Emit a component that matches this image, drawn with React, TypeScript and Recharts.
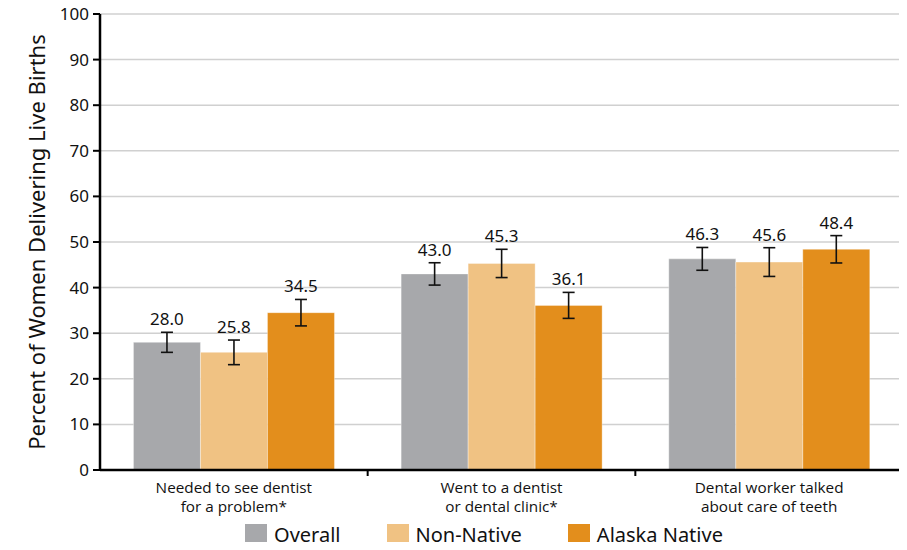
import {
  BarChart,
  Bar,
  XAxis,
  YAxis,
  CartesianGrid,
  ErrorBar,
  LabelList,
  Legend,
} from "recharts";

// Categories (two-line labels)
const categories = [
  ["Needed to see dentist", "for a problem*"],
  ["Went to a dentist", "or dental clinic*"],
  ["Dental worker talked", "about care of teeth"],
];

// Series values
const overall = [28.0, 43.0, 46.3];
const nonNative = [25.8, 45.3, 45.6];
const alaskaNative = [34.5, 36.1, 48.4];

// Error bar half-widths
const overallErr = [2.2, 2.45, 2.5];
const nonNativeErr = [2.7, 3.1, 3.15];
const alaskaNativeErr = [2.9, 2.85, 3.0];

const yTicks = [0, 10, 20, 30, 40, 50, 60, 70, 80, 90, 100];

const series = [
  { key: "overall", err: "overallErr", name: "Overall", color: "#a7a8ab" },
  { key: "nonNative", err: "nonNativeErr", name: "Non-Native", color: "#f0c283" },
  { key: "alaskaNative", err: "alaskaNativeErr", name: "Alaska Native", color: "#e38e1c" },
];

const data = categories.map((c, i) => ({
  name: c.join(" "),
  overall: overall[i],
  nonNative: nonNative[i],
  alaskaNative: alaskaNative[i],
  overallErr: overallErr[i],
  nonNativeErr: nonNativeErr[i],
  alaskaNativeErr: alaskaNativeErr[i],
}));

const W = 907;
const H = 550;
const margin = { top: 14, right: 4, left: 40, bottom: 0 };
const yAxisWidth = 60;
const band = (W - margin.left - margin.right - yAxisWidth) / categories.length;

const font = "'Noto Sans', 'Open Sans', sans-serif";
const narrow = "'Liberation Sans Narrow', 'Open Sans', sans-serif";

// x tick: two-line label plus a boundary tick mark at the right band edge
const CategoryTick = (props: any) => {
  const { x, y, index } = props;
  const lines = categories[index] || [];
  return (
    <g>
      <line x1={x + band / 2} x2={x + band / 2} y1={y - 8} y2={y - 2} stroke="#000" strokeWidth={2} />
      <text x={x} y={y + 15} textAnchor="middle" fontFamily={narrow} fontSize={15.3} fill="#111">
        {lines.map((l: string, i: number) => (
          <tspan key={i} x={x} dy={i === 0 ? 0 : 19}>
            {l}
          </tspan>
        ))}
      </text>
    </g>
  );
};

// value label sitting above the error bar
const makeLabel = (errs: number[]) => (props: any) => {
  const { x, y, width, height, value, index } = props;
  const pxPerUnit = height / value;
  const top = y - errs[index] * pxPerUnit;
  return (
    <text x={x + width / 2} y={top - 7} textAnchor="middle" fontFamily={font} fontSize={17} fill="#111">
      {Number(value).toFixed(1)}
    </text>
  );
};

const errMap: Record<string, number[]> = {
  overall: overallErr,
  nonNative: nonNativeErr,
  alaskaNative: alaskaNativeErr,
};

const LegendContent = () => (
  <div
    style={{
      height: 30,
      display: "flex",
      justifyContent: "center",
      alignItems: "center",
      gap: 46,
      fontFamily: font,
      fontSize: 20,
      lineHeight: "22px",
      color: "#111",
      paddingLeft: 25,
    }}
  >
    {series.map((s) => (
      <div key={s.key} style={{ display: "flex", alignItems: "center" }}>
        <span style={{ width: 22, height: 22, background: s.color, marginRight: 7, display: "inline-block" }} />
        <span>{s.name}</span>
      </div>
    ))}
  </div>
);

const App = () => {
  return (
    <div style={{ margin: -8, width: W, height: H, background: "#fff" }}>
      <BarChart width={W} height={H} data={data} margin={margin} barCategoryGap="12.5%" barGap={0}>
        <CartesianGrid vertical={false} stroke="#d0d0d0" strokeWidth={1.5} />
        <XAxis
          dataKey="name"
          height={50}
          axisLine={{ stroke: "#000", strokeWidth: 2.5 }}
          tickLine={false}
          tick={<CategoryTick />}
          interval={0}
        />
        <YAxis
          width={yAxisWidth}
          domain={[0, 100]}
          ticks={yTicks}
          axisLine={{ stroke: "#000", strokeWidth: 2.5 }}
          tickLine={{ stroke: "#000", strokeWidth: 2 }}
          tickSize={7}
          tickMargin={4}
          tick={{ fontFamily: font, fontSize: 17, fill: "#111" }}
          label={{
            value: "Percent of Women Delivering Live Births",
            angle: -90,
            position: "insideLeft",
            dx: -8,
            style: { fontFamily: font, fontSize: 22, fill: "#111", textAnchor: "middle" },
          }}
        />
        <Legend verticalAlign="bottom" content={<LegendContent />} />
        {series.map((s) => (
          <Bar key={s.key} dataKey={s.key} name={s.name} fill={s.color} stroke="#ffffff" strokeOpacity={0.35} isAnimationActive={false}>
            <ErrorBar dataKey={s.err} width={6} stroke="#111" strokeWidth={1.6} isAnimationActive={false} />
            <LabelList dataKey={s.key} content={makeLabel(errMap[s.key])} />
          </Bar>
        ))}
      </BarChart>
    </div>
  );
};

export default App;
